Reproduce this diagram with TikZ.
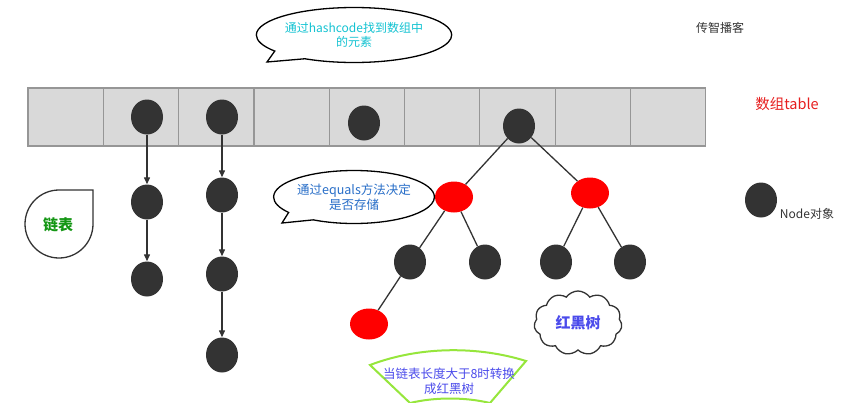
\documentclass[tikz,border=0pt]{standalone}
\usepackage{fontspec}
\setmainfont{Noto Sans CJK SC}
\usetikzlibrary{shapes.geometric,shapes.callouts,shapes.symbols,arrows.meta}

\definecolor{ballgray}{RGB}{51,51,51}
\definecolor{cellgray}{RGB}{217,217,217}
\definecolor{cellline}{RGB}{150,150,150}
\definecolor{hashcyan}{RGB}{20,195,210}
\definecolor{eqblue}{RGB}{40,110,200}
\definecolor{tablered}{RGB}{230,30,30}
\definecolor{treeblue}{RGB}{75,75,235}
\definecolor{listgreen}{RGB}{20,150,20}
\definecolor{wavegreen}{RGB}{150,230,60}

\tikzset{
  cell/.style={draw=cellline, fill=cellgray, line width=1.2pt, minimum width=75.3pt, minimum height=58pt, inner sep=0},
  ball/.style={ellipse, fill=ballgray, minimum width=32pt, minimum height=35pt, inner sep=0},
  redball/.style={ellipse, fill=red, minimum width=38pt, minimum height=31pt, inner sep=0},
  link/.style={-{Triangle[length=7pt,width=6pt]}, draw=ballgray, line width=1.3pt},
  branch/.style={draw=ballgray, line width=1.3pt},
  bubble/.style={ellipse callout, draw, line width=1.3pt, fill=white, align=center, inner sep=0, callout pointer arc=24}
}

\begin{document}
\begin{tikzpicture}[x=1pt,y=-1pt]
    \useasboundingbox (0,0) rectangle (850,402);

    % array
    \foreach \i in {0,...,8}
      \node[cell] (c\i) at ({65.7+75.3*\i},117) {};

    % entries in the array
    \node[ball] (a1) at (147,117) {};
    \node[ball] (a2) at (222,117) {};
    \node[ball] (a3) at (364,123) {};
    \node[ball] (r0) at (519,126) {};

    % first list
    \node[ball] (p1) at (147,202) {};
    \node[ball] (p2) at (147,279) {};
    \draw[link] (a1) -- (p1);
    \draw[link] (p1) -- (p2);

    % second list
    \node[ball] (q1) at (222,195) {};
    \node[ball] (q2) at (222,274) {};
    \node[ball] (q3) at (222,355) {};
    \draw[link] (a2) -- (q1);
    \draw[link] (q1) -- (q2);
    \draw[link] (q2) -- (q3);

    % red black tree
    \node[redball] (r1) at (454,197) {};
    \node[redball] (r2) at (590,193) {};
    \node[ball] (r3) at (410,262) {};
    \node[ball] (r4) at (485,262) {};
    \node[ball] (r5) at (556,262) {};
    \node[ball] (r6) at (630,262) {};
    \node[redball] (r7) at (369,324) {};
    \draw[branch] (r0) -- (r1);
    \draw[branch] (r0) -- (r2);
    \draw[branch] (r1) -- (r3);
    \draw[branch] (r1) -- (r4);
    \draw[branch] (r2) -- (r5);
    \draw[branch] (r2) -- (r6);
    \draw[branch] (r3) -- (r7);

    % notes
    \node[bubble, minimum width=174pt, minimum height=55pt, callout absolute pointer={(267,62)},
          font=\fontsize{12}{14}\selectfont, text=hashcyan] (hash) at (354,35)
          {通过hashcode找到数组中\\的元素};
    \node[bubble, minimum width=144pt, minimum height=53pt, callout absolute pointer={(282,223)},
          font=\fontsize{12.5}{14.5}\selectfont, text=eqblue] (eq) at (354,197)
          {通过equals方法决定\\是否存储};

    \draw[line width=1.3pt, draw=ballgray] (93,190) -- (93,224) arc[start angle=0, end angle=270, radius=34] -- cycle;
    \node[font=\fontsize{15}{15}\selectfont\bfseries, text=listgreen] (list) at (58,225) {链表};

    \node[cloud, draw=ballgray, line width=1.3pt, cloud puffs=11, cloud puff arc=110, aspect=1.4,
          minimum width=88pt, minimum height=64pt, font=\fontsize{15}{15}\selectfont\bfseries,
          text=treeblue] (tree) at (578,323) {红黑树};

    \draw[draw=wavegreen, line width=2pt, fill=white] (370,365) .. controls (420,346) and (478,346) .. (526,361)
        -- (490,403) .. controls (465,397) and (435,397) .. (410,403) -- cycle;
    \node[font=\fontsize{12.5}{15}\selectfont, text=treeblue, align=center] (conv) at (449,381)
          {当链表长度大于8时转换\\成红黑树};

    % legend
    \node[font=\fontsize{12}{12}\selectfont, text=ballgray] (brand) at (720,28) {传智播客};
    \node[font=\fontsize{14.5}{14.5}\selectfont, text=tablered] (tab) at (787,104) {数组table};
    \node[ball] (leg) at (761,200) {};
    \node[font=\fontsize{12}{12}\selectfont, text=ballgray] (legtext) at (807,214) {Node对象};

\end{tikzpicture}
\end{document}
